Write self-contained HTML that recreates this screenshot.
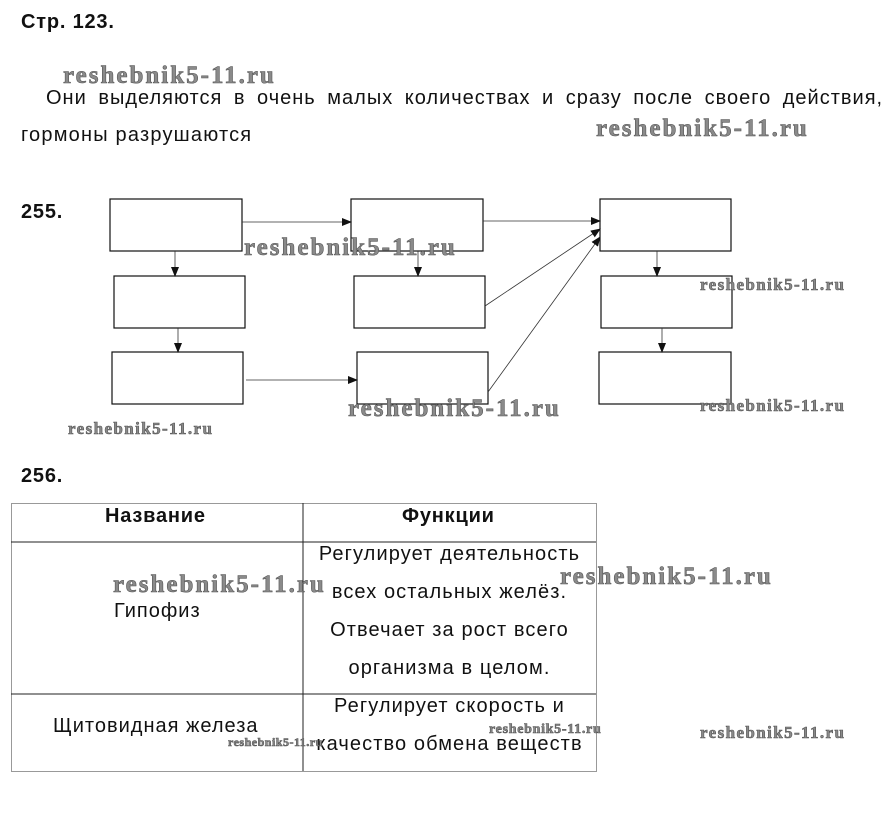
<!DOCTYPE html>
<html><head><meta charset="utf-8"><style>
body{margin:0;width:884px;height:820px;background:#fff;position:relative;font-family:"Liberation Sans",sans-serif;overflow:hidden}
.t{position:absolute;color:#111;font-size:20px;letter-spacing:1px;white-space:nowrap}
.b{font-weight:bold;letter-spacing:0.8px}
.w{position:absolute;font-family:"Liberation Serif",serif;font-weight:bold;color:#8a8a8a;white-space:nowrap;-webkit-text-stroke:0.6px #555}
.L{font-size:25px;letter-spacing:2px}
.S{font-size:17px;letter-spacing:1.4px}
.c{position:absolute;text-align:center;font-size:20px;letter-spacing:1.1px;color:#111;line-height:38px;white-space:nowrap}
</style></head><body>
<div class="t b" style="left:21px;top:11px">Стр. 123.</div>
<div class="w L" style="left:63px;top:62px">reshebnik5-11.ru</div>
<div class="t" style="left:46px;top:87px;word-spacing:5px">Они выделяются в очень малых количествах и сразу после своего действия,</div>
<div class="t" style="left:21px;top:124px;letter-spacing:1.2px">гормоны разрушаются</div>
<div class="w L" style="left:596px;top:115px">reshebnik5-11.ru</div>
<div class="t b" style="left:21px;top:201px">255.</div>
<svg width="884" height="820" style="position:absolute;left:0;top:0">
<defs><marker id="a" markerWidth="10" markerHeight="8" refX="9" refY="4" orient="auto" markerUnits="userSpaceOnUse"><path d="M0,0L10,4L0,8z" fill="#111"/></marker></defs>
<g fill="none" stroke="#111" stroke-width="1.2">
<rect x="110" y="199" width="132" height="52"/><rect x="351" y="199" width="132" height="52"/><rect x="600" y="199" width="131" height="52"/>
<rect x="114" y="276" width="131" height="52"/><rect x="354" y="276" width="131" height="52"/><rect x="601" y="276" width="131" height="52"/>
<rect x="112" y="352" width="131" height="52"/><rect x="357" y="352" width="131" height="52"/><rect x="599" y="352" width="132" height="52"/>
</g>
<g stroke="#333" stroke-width="0.8" marker-end="url(#a)">
<line x1="242" y1="222" x2="351" y2="222"/><line x1="483" y1="221" x2="600" y2="221"/>
<line x1="485" y1="306" x2="600" y2="229"/><line x1="488" y1="392" x2="600" y2="237"/>
<line x1="175" y1="251" x2="175" y2="276"/><line x1="178" y1="328" x2="178" y2="352"/>
<line x1="418" y1="251" x2="418" y2="276"/><line x1="657" y1="251" x2="657" y2="276"/>
<line x1="662" y1="328" x2="662" y2="352"/><line x1="246" y1="380" x2="357" y2="380"/>
</g>
<g stroke="#222" stroke-width="1">
<rect x="11.5" y="503.5" width="585" height="268" fill="none" stroke="#999"/>
<line x1="11" y1="542" x2="596" y2="542"/><line x1="11" y1="694" x2="596" y2="694"/>
<line x1="303" y1="503" x2="303" y2="771"/>
</g>
</svg>
<div class="w L" style="left:244px;top:234px">reshebnik5-11.ru</div>
<div class="w S" style="left:700px;top:275px">reshebnik5-11.ru</div>
<div class="w S" style="left:700px;top:396px">reshebnik5-11.ru</div>
<div class="w L" style="left:348px;top:395px">reshebnik5-11.ru</div>
<div class="w S" style="left:68px;top:419px">reshebnik5-11.ru</div>
<div class="t b" style="left:21px;top:465px">256.</div>
<div class="t b" style="left:105px;top:505px">Название</div>
<div class="t b" style="left:402px;top:505px">Функции</div>
<div class="c" style="left:303px;top:535px;width:293px">Регулирует деятельность<br>всех остальных желёз.<br>Отвечает за рост всего<br>организма в целом.</div>
<div class="t" style="left:114px;top:600px">Гипофиз</div>
<div class="w L" style="left:113px;top:571px">reshebnik5-11.ru</div>
<div class="w L" style="left:560px;top:563px">reshebnik5-11.ru</div>
<div class="c" style="left:303px;top:687px;width:293px">Регулирует скорость и<br>качество обмена веществ</div>
<div class="t" style="left:53px;top:715px">Щитовидная железа</div>
<div class="w" style="left:228px;top:735px;font-size:12px;letter-spacing:0.5px">reshebnik5-11.ru</div>
<div class="w" style="left:489px;top:722px;font-size:14px;letter-spacing:0.7px">reshebnik5-11.ru</div>
<div class="w S" style="left:700px;top:723px">reshebnik5-11.ru</div>
</body></html>
